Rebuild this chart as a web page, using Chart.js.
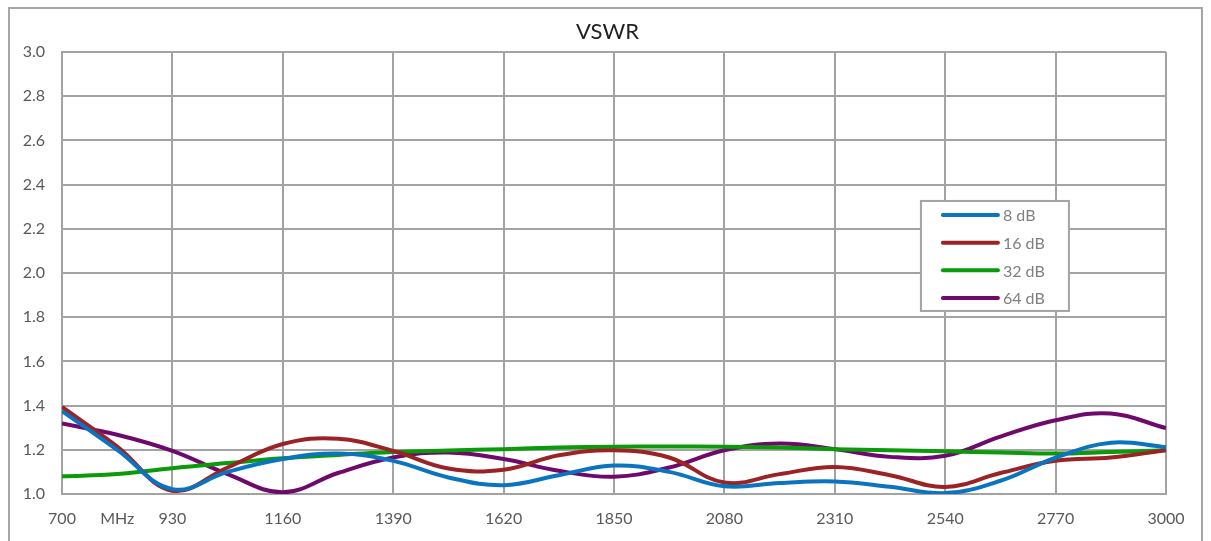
<!DOCTYPE html>
<html>
<head>
<meta charset="utf-8">
<script src="https://cdn.jsdelivr.net/npm/chart.js@4.4.1/dist/chart.umd.min.js"></script>
<style>
    html, body { margin: 0; padding: 0; overflow: hidden; background: #fff; }
    #frame {
        position: absolute; left: 8px; top: 7px; width: 1195px; height: 600px;
        border: 2px solid #a6a6a6; box-sizing: border-box;
    }
    #wrap { position: absolute; left: 0; top: 0; width: 1211px; height: 541px; }
</style>
</head>
<body>
<div id="frame"></div>
<div id="wrap"><canvas id="vswr-chart" width="1211" height="541"></canvas></div>
<script>
// Frequency points (MHz)
const freq = [700, 815, 930, 1045, 1160, 1275, 1390, 1505, 1620, 1735, 1850,
              1965, 2080, 2195, 2310, 2425, 2540, 2655, 2770, 2885, 3000];

// VSWR per attenuation setting
const vswr8  = [1.375, 1.20, 1.022, 1.10, 1.158, 1.183, 1.15, 1.075, 1.04, 1.085, 1.129,
                1.10, 1.035, 1.05, 1.057, 1.033, 1.004, 1.06, 1.164, 1.232, 1.212];
const vswr16 = [1.394, 1.215, 1.015, 1.12, 1.226, 1.25, 1.195, 1.115, 1.11, 1.175, 1.198,
                1.165, 1.052, 1.09, 1.122, 1.085, 1.032, 1.095, 1.15, 1.165, 1.198];
const vswr32 = [1.08, 1.09, 1.117, 1.14, 1.162, 1.177, 1.19, 1.197, 1.203, 1.21, 1.214,
                1.215, 1.214, 1.21, 1.203, 1.198, 1.193, 1.188, 1.183, 1.19, 1.198];
const vswr64 = [1.319, 1.268, 1.195, 1.09, 1.008, 1.095, 1.165, 1.188, 1.158, 1.105, 1.078,
                1.12, 1.198, 1.228, 1.203, 1.168, 1.173, 1.26, 1.334, 1.364, 1.298];

const seriesLabels = ['8 dB', '16 dB', '32 dB', '64 dB'];
const seriesColors = ['#0a74c0', '#9b2225', '#0a9a0a', '#6e0a6b'];

const chartTitle = 'VSWR';
const xTickStep = 115; // every other tick is labelled
const gridColor = '#a3a3a3';
const font = 'Lato, "Open Sans", sans-serif';

function toPoints(values) {
    return values.map((v, i) => ({ x: freq[i], y: v }));
}

// Title centred on the whole canvas (not on the padded layout box)
const centerTitle = {
    id: 'centerTitle',
    afterDraw(chart) {
        const { ctx } = chart;
        ctx.save();
        ctx.font = '22px ' + font;
        ctx.fillStyle = '#222';
        ctx.textAlign = 'center';
        ctx.textBaseline = 'middle';
        ctx.fillText(chartTitle, chart.width / 2 + 2, 32);
        ctx.restore();
    }
};

// Legend box sitting inside the plot area
const boxLegend = {
    id: 'boxLegend',
    afterDraw(chart) {
        const { ctx, chartArea: a } = chart;
        const w = a.right - a.left, h = a.bottom - a.top;
        const bx = a.left + w * 0.778, by = a.top + h * 0.337;
        const bw = 148, bh = 110;
        ctx.save();
        ctx.fillStyle = '#fff';
        ctx.fillRect(bx, by, bw, bh);
        ctx.strokeStyle = gridColor;
        ctx.lineWidth = 2;
        ctx.strokeRect(bx, by, bw, bh);
        ctx.font = '16px ' + font;
        ctx.textBaseline = 'middle';
        chart.data.datasets.forEach((ds, i) => {
            const y = by + 14 + i * 27.7;
            ctx.strokeStyle = ds.borderColor;
            ctx.lineWidth = 4;
            ctx.lineCap = 'round';
            ctx.beginPath();
            ctx.moveTo(bx + 22, y);
            ctx.lineTo(bx + 77, y);
            ctx.stroke();
            ctx.fillStyle = '#7f7f7f';
            ctx.fillText(ds.label, bx + 82, y + 1);
        });
        ctx.restore();
    }
};

const ctx = document.getElementById('vswr-chart').getContext('2d');
const chart = new Chart(ctx, {
    type: 'line',
    data: {
        datasets: [vswr8, vswr16, vswr32, vswr64].map((vals, i) => ({
            label: seriesLabels[i],
            data: toPoints(vals),
            borderColor: seriesColors[i],
            borderWidth: 4,
            pointRadius: 0,
            tension: 0.4,
            fill: false
        }))
    },
    options: {
        responsive: false,
        animation: false,
        layout: { padding: { left: 0, right: 45, top: 52, bottom: 0 } },
        plugins: {
            legend: { display: false },
            tooltip: { enabled: false },
            title: { display: false }
        },
        scales: {
            x: {
                type: 'linear',
                min: 700,
                max: 3000,
                afterFit: s => { s.height = 47; },
                border: { color: gridColor, width: 2 },
                grid: {
                    drawTicks: false,
                    lineWidth: 2,
                    color: c => (c.index % 2 === 0 ? gridColor : 'rgba(0,0,0,0)')
                },
                ticks: {
                    stepSize: xTickStep,
                    autoSkip: false,
                    maxRotation: 0,
                    padding: 15,
                    color: '#595959',
                    font: { family: font, size: 16 },
                    callback: (value, index) => {
                        if (index === 1) return 'MHz';
                        return index % 2 === 0 ? value : '';
                    }
                }
            },
            y: {
                min: 1.0,
                max: 3.0,
                afterFit: s => { s.width = 62; },
                border: { color: gridColor, width: 2 },
                grid: { drawTicks: false, lineWidth: 2, color: gridColor },
                ticks: {
                    stepSize: 0.2,
                    padding: 17,
                    color: '#595959',
                    font: { family: font, size: 16 },
                    callback: v => v.toFixed(1)
                }
            }
        }
    },
    plugins: [centerTitle, boxLegend]
});
</script>
</body>
</html>
